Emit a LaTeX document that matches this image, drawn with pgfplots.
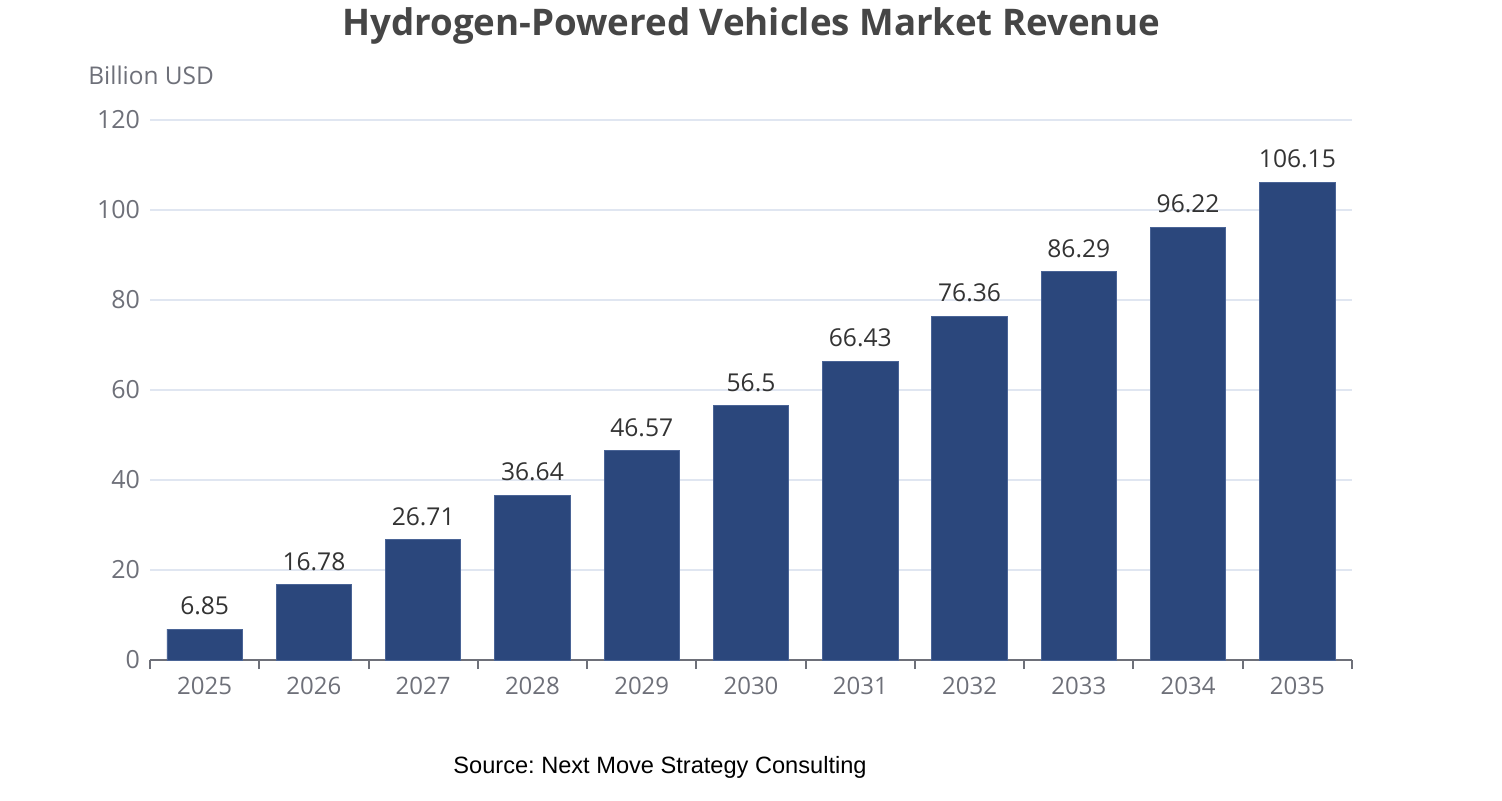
\documentclass[border=0pt]{standalone}
\usepackage{pgfplots}
\pgfplotsset{compat=1.18}
\usepackage{fontspec}
\setmainfont{Open Sans}
\newfontfamily\srcfont{Liberation Sans}
\frenchspacing
\definecolor{barc}{HTML}{2B477C}
\definecolor{barb}{HTML}{4A6496}
\definecolor{tickc}{HTML}{6E7079}
\definecolor{gridc}{HTML}{E0E6F1}
\definecolor{titlec}{HTML}{464646}
\definecolor{labc}{HTML}{333333}
\begin{document}
\begin{tikzpicture}
\useasboundingbox (-75pt,-70pt) rectangle (676pt,330pt);
\begin{axis}[
  at={(0,0)}, anchor=south west,
  scale only axis, width=601pt, height=270pt,
  xmin=-0.5, xmax=10.5, ymin=0, ymax=120,
  ytick={0,20,...,120},
  xtick={0,...,10},
  xticklabels={2025,2026,2027,2028,2029,2030,2031,2032,2033,2034,2035},
  major x tick style={draw=none},
  major y tick style={draw=none},
  extra x ticks={-0.5,0.5,...,10.5},
  extra x tick labels={},
  extra x tick style={grid=none, major tick length=4.5pt, tick align=outside, major x tick style={draw=tickc, line width=1pt}},
  axis x line*=bottom, axis y line*=left,
  x axis line style={draw=tickc, line width=1pt, -},
  y axis line style={draw=none},
  ymajorgrids, grid style={draw=gridc, line width=0.6pt},
  ticklabel style={font=\fontsize{12}{14}\selectfont, text=tickc},
  yticklabel style={font=\fontsize{12.5}{14}\selectfont, xshift=-1.5pt},
  xticklabel style={yshift=-5pt},
  /pgf/number format/assume math mode=true,
  clip=false,
  nodes near coords,
  nodes near coords style={font=\fontsize{12.3}{14}\selectfont, text=labc, yshift=3.5pt},
  point meta=explicit symbolic,
]
\addplot[ybar, bar width=0.69, fill=barc, draw=barb, line width=0.4pt] table[meta=lab] {
x y lab
0 6.85 6.85
1 16.78 16.78
2 26.71 26.71
3 36.64 36.64
4 46.57 46.57
5 56.5 56.5
6 66.43 66.43
7 76.36 76.36
8 86.29 86.29
9 96.22 96.22
10 106.15 106.15
};
\end{axis}
\node[font=\fontsize{18.35}{22}\selectfont\bfseries, text=titlec] at (300.5pt,317pt) {Hydrogen-Powered Vehicles Market Revenue};
\node[font=\fontsize{12.2}{14}\selectfont, text=tickc, anchor=west, inner sep=0pt] at (-31pt,292.5pt) {Billion USD};
\node[font=\srcfont\fontsize{11.8}{14}\selectfont, text=black] at (255pt,-53.5pt) {Source: Next Move Strategy Consulting};
\end{tikzpicture}
\end{document}
